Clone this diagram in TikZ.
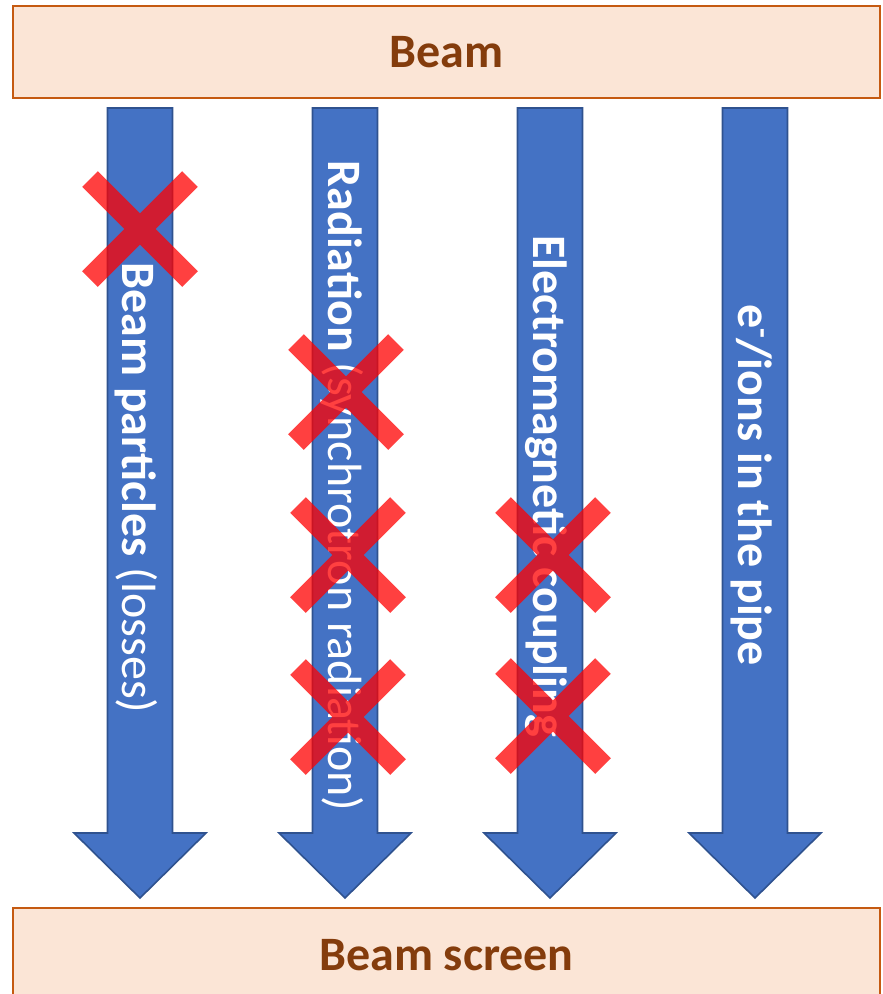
\documentclass[tikz,border=0pt]{standalone}
\usepackage{fontspec}
\setmainfont{Carlito}
\usetikzlibrary{positioning,calc}
\definecolor{wall}{HTML}{FBE5D6}
\definecolor{wallline}{HTML}{C55A11}
\definecolor{walltext}{HTML}{843C0C}
\definecolor{flow}{HTML}{4472C4}
\definecolor{flowline}{HTML}{2F528F}
\definecolor{cross}{HTML}{FF0000}
\newcommand{\elminus}{\raisebox{15pt}{\fontsize{32}{32}\selectfont -}}
\tikzset{
  wallbox/.style={draw=wallline,line width=2.5pt,fill=wall,minimum width=867pt,text=walltext,font=\fontsize{48}{56}\selectfont\bfseries},
  flowarrow/.style={draw=flowline,line width=1.6pt,fill=flow,line join=miter},
  flowlabel/.style={rotate=-90,anchor=base,text=white,font=\fontsize{48}{56}\selectfont,inner sep=0pt},
  xmark/.style={draw=cross,draw opacity=0.75,line width=22pt},
}
\begin{document}
\begin{tikzpicture}[x=1pt,y=-1pt]
\useasboundingbox (0,0) rectangle (883,994);

\node[wallbox,minimum height=92pt] (beam) at (446.5,52) {Beam};
\node[wallbox,minimum height=94pt] (screen) at (446.5,955) {Beam screen};

% block arrows from beam to screen
\foreach \x in {140,345,550,755}{
  \draw[flowarrow] (\x-32.5,108) -- (\x+32.5,108) -- (\x+32.5,833) -- (\x+66,833)
    -- (\x,898) -- (\x-66,833) -- (\x-32.5,833) -- cycle;
}

\node[flowlabel] (losses) at (122,488) {\textbf{Beam particles} (losses)};
\node[flowlabel] (radiation) at (328,486) {\textbf{Radiation} (synchrotron radiation)};
\node[flowlabel] (coupling) at (533,486) {\textbf{Electromagnetic coupling}};
\node[flowlabel] (ions) at (738,485) {\textbf{e\elminus/ions in the pipe}};

% crosses
\foreach \cx/\cy in {140/229,346/392,348/555,348/717,553/555,553/716}
  \draw[xmark] (\cx-50,\cy-50) -- (\cx+50,\cy+50) (\cx-50,\cy+50) -- (\cx+50,\cy-50);

\end{tikzpicture}
\end{document}
